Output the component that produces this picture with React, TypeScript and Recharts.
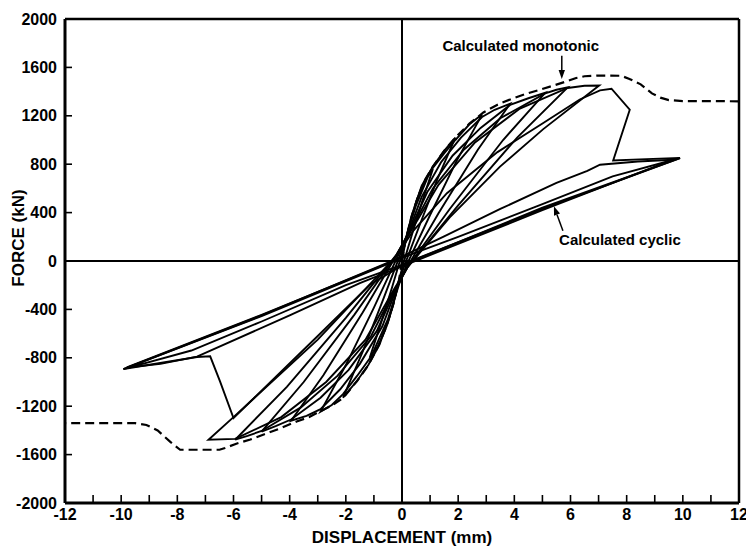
import React from 'react';
import { LineChart, Line, XAxis, YAxis, ReferenceLine, Label } from 'recharts';

type Pt = [number, number];

const xTicks = [-12, -11, -10, -9, -8, -7, -6, -5, -4, -3, -2, -1, 0, 1, 2, 3, 4, 5, 6, 7, 8, 9, 10, 11, 12];
const yTicks = [-2000, -1600, -1200, -800, -400, 0, 400, 800, 1200, 1600, 2000];

// calculated monotonic (dashed)
const monotonicPos: Pt[] = [
  [0, 0], [0.1, 140], [0.3, 335], [0.55, 520], [0.8, 662], [1.1, 780], [1.5, 910], [1.9, 1020],
  [2.4, 1135], [2.9, 1228], [3.4, 1292], [3.9, 1340], [4.4, 1380], [4.9, 1415], [5.4, 1450],
  [5.8, 1480], [6.2, 1512], [6.5, 1527], [7.0, 1533], [7.8, 1531], [8.1, 1505], [8.5, 1460],
  [8.9, 1385], [9.2, 1350], [9.5, 1330], [10.0, 1322], [12, 1320],
];
const monotonicNeg: Pt[] = [
  [0, 0], [-0.1, -150], [-0.3, -350], [-0.55, -540], [-0.85, -705], [-1.2, -862], [-1.6, -992],
  [-2.1, -1132], [-2.5, -1195], [-2.9, -1240], [-3.3, -1290], [-3.75, -1326], [-4.3, -1380], [-4.9, -1432],
  [-5.4, -1475], [-5.9, -1510], [-6.3, -1545], [-6.5, -1560], [-7.9, -1560], [-8.25, -1495],
  [-8.7, -1400], [-9.1, -1355], [-9.5, -1340], [-12, -1340],
];

// calculated cyclic, one array per cycle (in load order)
const cycle1: Pt[] = [
  [0, 0], [0.1, 130], [0.3, 330], [0.55, 520], [0.8, 660], [1.1, 760], [0.7, 480], [0.35, 215], [0.05, -20],
  [-0.1, -150], [-0.3, -350], [-0.55, -540], [-0.85, -700], [-1.15, -800], [-0.75, -515], [-0.35, -215], [-0.05, 20],
];
const cycle2: Pt[] = [
  [-0.05, 20], [0.1, 140], [0.35, 380], [0.7, 620], [1.1, 780], [1.5, 910], [1.9, 1020], [1.25, 670], [0.65, 310], [0.1, -30],
  [-0.1, -160], [-0.4, -430], [-0.8, -690], [-1.2, -860], [-1.6, -990], [-2.1, -1130], [-1.4, -750], [-0.7, -335], [-0.1, 30],
];
const cycle3: Pt[] = [
  [-0.1, 30], [0.15, 200], [0.5, 460], [1.0, 740], [1.5, 890], [1.9, 1000], [2.4, 1130], [2.85, 1210], [1.95, 830], [1.0, 380], [0.15, -40],
  [-0.1, -190], [-0.5, -480], [-1.1, -790], [-1.6, -950], [-2.1, -1100], [-2.5, -1190], [-2.9, -1245], [-2.0, -860], [-1.0, -385], [-0.15, 40],
];
const cycle4: Pt[] = [
  [-0.15, 40], [0.2, 220], [0.7, 530], [1.4, 820], [2.1, 1020], [2.85, 1190], [3.3, 1250], [3.85, 1300], [2.7, 920], [1.3, 395], [0.2, -45],
  [-0.15, -200], [-0.7, -540], [-1.5, -850], [-2.2, -1060], [-2.9, -1225], [-3.4, -1280], [-3.95, -1320], [-2.8, -945], [-1.4, -425], [-0.2, 45],
];
const cycle5: Pt[] = [
  [-0.2, 45], [0.25, 240], [0.9, 570], [1.8, 870], [2.8, 1100], [3.85, 1290], [4.5, 1345], [5.1, 1390], [3.6, 1000], [1.7, 430], [0.2, -50],
  [-0.2, -220], [-0.9, -580], [-1.9, -900], [-2.9, -1130], [-3.95, -1310], [-4.5, -1365], [-5.0, -1410], [-3.5, -1000], [-1.7, -445], [-0.2, 50],
];
const cycle6: Pt[] = [
  [-0.2, 50], [0.3, 250], [1.1, 600], [2.2, 920], [3.5, 1180], [5.1, 1385], [5.5, 1415], [5.9, 1435], [4.1, 1020], [2.0, 460], [0.2, -50],
  [-0.25, -230], [-1.1, -620], [-2.3, -950], [-3.6, -1210], [-5.0, -1405], [-5.5, -1445], [-5.94, -1477], [-4.1, -1040], [-2.0, -470], [-0.2, 50],
];
const cycle7: Pt[] = [
  [-0.2, 50], [0.35, 260], [1.3, 630], [2.6, 980], [4.2, 1260], [5.9, 1430], [6.5, 1448], [7.02, 1451], [5.03, 1090], [3.49, 780], [1.7, 360], [0.2, -50],
  [-0.3, -240], [-1.3, -650], [-2.7, -1000], [-4.3, -1290], [-5.94, -1470], [-6.89, -1477], [-6.0, -1290], [-3.0, -650], [-0.2, 40],
];
const cycle8: Pt[] = [
  [-0.2, 40], [0.4, 250], [1.6, 560], [3.4, 900], [5.03, 1140], [6.33, 1335], [7.05, 1410], [7.46, 1424], [8.11, 1250],
  [7.52, 831], [8.7, 842], [9.9, 851], [5.0, 430], [0.2, -10],
  [-1.14, -196], [-3.0, -620], [-6.0, -1298], [-6.48, -995], [-6.83, -788], [-7.3, -793], [-9.92, -893], [-5.0, -450], [-0.2, 15],
];
const cycle9: Pt[] = [
  [-0.2, 15], [1.5, 203], [3.5, 430], [5.5, 645], [6.6, 745], [7.05, 796], [8.4, 822], [9.65, 837], [5.0, 420], [0.2, -25],
  [-1.5, -182], [-4.0, -450], [-7.3, -790], [-8.6, -850], [-9.8, -880], [-5.0, -445], [-0.2, 10],
];
const cycle10: Pt[] = [
  [-0.2, 10], [2.0, 200], [5.0, 470], [7.5, 700], [9.9, 851], [5.0, 440], [0.2, -15],
  [-2.0, -200], [-5.0, -500], [-7.5, -740], [-9.92, -893], [-5.0, -455], [-0.2, 5],
];

const cycles = [cycle1, cycle2, cycle3, cycle4, cycle5, cycle6, cycle7, cycle8, cycle9, cycle10];

const toRows = (pts: Pt[]) => pts.map(([x, y]) => ({ x, y }));

const FONT = '"Liberation Sans", Arial, Helvetica, sans-serif';

const XTick = (props: any) => {
  const { x, y, payload } = props;
  const v = payload.value as number;
  return (
    <g>
      <line x1={x} y1={y} x2={x} y2={y - 8} stroke="#000" strokeWidth={1.6} />
      {v % 2 === 0 && (
        <text x={x} y={y + 17} textAnchor="middle" fontFamily={FONT} fontWeight="bold" fontSize={16} fill="#000">
          {v}
        </text>
      )}
    </g>
  );
};

const YTick = (props: any) => {
  const { x, y, payload } = props;
  return (
    <g>
      <line x1={x} y1={y} x2={x + 7} y2={y} stroke="#000" strokeWidth={1.6} />
      <text x={x - 8} y={y + 5.5} textAnchor="end" fontFamily={FONT} fontWeight="bold" fontSize={16} fill="#000">
        {payload.value}
      </text>
    </g>
  );
};

// line with arrowhead at (x2,y2) and a caption near its start
const arrowWithText = (caption: string, dx: number, dy: number) => (props: any) => {
  const { x1, y1, x2, y2 } = props;
  const ang = Math.atan2(y2 - y1, x2 - x1);
  const len = 9;
  const w = 3.2;
  const bx = x2 - len * Math.cos(ang);
  const by = y2 - len * Math.sin(ang);
  const px = -Math.sin(ang) * w;
  const py = Math.cos(ang) * w;
  return (
    <g>
      <line x1={x1} y1={y1} x2={bx} y2={by} stroke="#000" strokeWidth={1.5} />
      <polygon points={`${x2},${y2} ${bx + px},${by + py} ${bx - px},${by - py}`} fill="#000" />
      <text x={x1 + dx} y={y1 + dy} textAnchor="middle" fontFamily={FONT} fontWeight="bold" fontSize={15} fill="#000">
        {caption}
      </text>
    </g>
  );
};

export default function App() {
  return (
    <div style={{ position: 'absolute', left: 0, top: 0, width: 746, height: 546, background: '#fff' }}>
      <LineChart width={746} height={546} margin={{ top: 19, right: 7, bottom: 0, left: 0 }}>
        <XAxis
          type="number"
          dataKey="x"
          domain={[-12, 12]}
          ticks={xTicks}
          interval={0}
          tickSize={0}
          tickMargin={0}
          height={43}
          tickLine={false}
          axisLine={{ stroke: '#000', strokeWidth: 3 }}
          tick={<XTick />}
          allowDataOverflow
        >
          <Label
            content={() => (
              <text x={402} y={543} textAnchor="middle" fontFamily={FONT} fontWeight="bold" fontSize={17} fill="#000">
                DISPLACEMENT (mm)
              </text>
            )}
          />
        </XAxis>
        <YAxis
          type="number"
          dataKey="y"
          domain={[-2000, 2000]}
          ticks={yTicks}
          interval={0}
          tickSize={0}
          tickMargin={0}
          width={65}
          tickLine={false}
          axisLine={{ stroke: '#000', strokeWidth: 3 }}
          tick={<YTick />}
          allowDataOverflow
        >
          <Label
            content={() => (
              <text transform="translate(24,238) rotate(-90)" textAnchor="middle" fontFamily={FONT} fontWeight="bold" fontSize={17} fill="#000">
                FORCE (kN)
              </text>
            )}
          />
        </YAxis>

        <ReferenceLine y={2000} stroke="#000" strokeWidth={2.5} />
        <ReferenceLine x={12} stroke="#000" strokeWidth={2.5} />
        <ReferenceLine y={0} stroke="#000" strokeWidth={2} />
        <ReferenceLine x={0} stroke="#000" strokeWidth={2} />

        {cycles.map((c, i) => (
          <Line
            key={'c' + i}
            data={toRows(c)}
            dataKey="y"
            type="linear"
            stroke="#000"
            strokeWidth={1.9}
            dot={false}
            activeDot={false}
            isAnimationActive={false}
            strokeLinejoin="miter"
          />
        ))}
        <Line data={toRows(monotonicPos)} dataKey="y" type="linear" stroke="#000" strokeWidth={2.2} strokeDasharray="9 5" dot={false} activeDot={false} isAnimationActive={false} />
        <Line data={toRows(monotonicNeg)} dataKey="y" type="linear" stroke="#000" strokeWidth={2.2} strokeDasharray="9 5" dot={false} activeDot={false} isAnimationActive={false} />

        <ReferenceLine
          segment={[{ x: 5.69, y: 1697 }, { x: 5.69, y: 1505 }]}
          shape={arrowWithText('Calculated monotonic', -41, -5)}
        />
        <ReferenceLine
          segment={[{ x: 5.73, y: 250 }, { x: 5.41, y: 453 }]}
          shape={arrowWithText('Calculated cyclic', 57, 14)}
        />
      </LineChart>
    </div>
  );
}
